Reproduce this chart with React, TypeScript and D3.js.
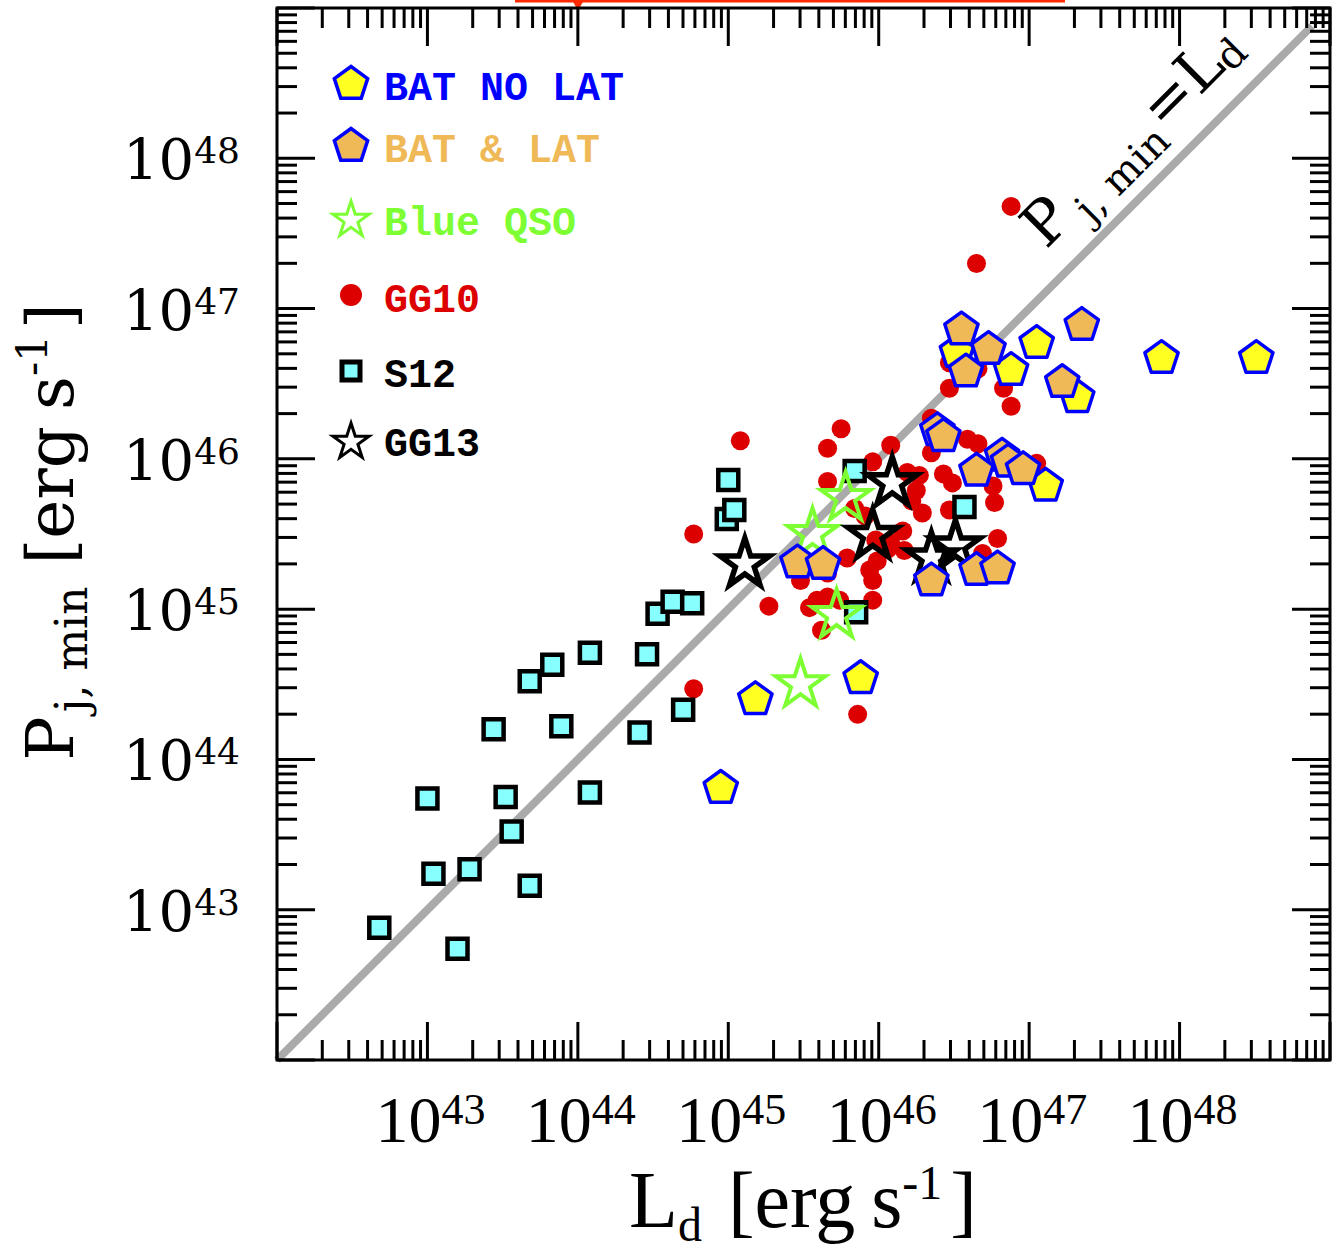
import React from "react";
import * as d3 from "d3";

// all values are log10 of erg/s
const s12Ld = [42.68, 43.2, 43.04, 43.28, 43.0, 43.56, 43.52, 43.68, 43.44, 43.68, 43.83, 43.89, 44.08, 44.08, 44.41, 44.46, 44.53, 44.63, 44.76, 44.7, 44.99, 45.04, 45.0, 45.84, 46.57, 45.85];
const s12Pj = [42.88, 42.74, 43.24, 43.27, 43.74, 43.52, 43.75, 43.16, 44.2, 44.52, 44.63, 44.22, 44.71, 43.78, 44.18, 44.7, 44.97, 45.05, 45.04, 44.33, 45.6, 45.66, 45.86, 45.92, 45.68, 44.98];

const gg10Ld = [46.88, 46.65, 46.47, 46.66, 46.47, 46.83, 46.88, 46.35, 46.08, 45.08, 45.75, 45.66, 44.77, 45.27, 44.77, 45.86, 45.96, 45.66, 47.05, 46.76, 46.77, 46.79, 46.59, 46.66, 46.35, 46.19, 46.27, 46.43, 46.49, 46.25, 46.29, 46.47, 46.22, 46.16, 46.08, 46.17, 45.99, 45.94, 45.96, 45.79, 45.66, 45.48, 45.84, 45.91, 45.59, 45.74, 45.96, 45.54, 45.62, 45.66, 46.06, 46.69, 45.98];
const gg10Pj = [47.68, 47.3, 46.64, 46.6, 46.47, 46.47, 46.35, 46.27, 46.09, 46.12, 46.2, 46.07, 45.5, 45.02, 44.47, 44.3, 45.98, 45.85, 45.97, 45.82, 45.71, 45.47, 46.13, 46.1, 46.04, 45.91, 45.89, 45.9, 45.84, 45.79, 45.64, 45.66, 45.72, 45.52, 45.44, 45.39, 45.32, 45.26, 45.19, 45.34, 45.24, 45.19, 45.67, 45.62, 45.06, 45.06, 45.06, 45.01, 44.86, 45.08, 45.4, 45.37, 45.46];

const gg13Ld = [46.09, 45.96, 45.11, 46.35, 46.51];
const gg13Pj = [45.84, 45.49, 45.3, 45.34, 45.42];

const qsoLd = [45.78, 45.56, 45.72, 45.48];
const qsoPj = [45.74, 45.5, 44.96, 44.5];

const batNoLatLd = [47.88, 48.51, 47.05, 46.88, 47.32, 46.52, 47.11, 45.88, 45.18, 44.95];
const batNoLatPj = [46.67, 46.67, 46.77, 46.59, 46.41, 46.71, 45.82, 44.54, 44.4, 43.81];

const batLatLd = [47.35, 46.55, 46.73, 46.58, 47.22, 46.39, 46.43, 46.82, 46.86, 46.65, 46.96, 45.46, 45.63, 46.35, 46.65, 46.79];
const batLatPj = [46.89, 46.86, 46.73, 46.58, 46.51, 46.19, 46.15, 46.02, 45.98, 45.92, 45.93, 45.31, 45.3, 45.19, 45.26, 45.27];

const xTickExp = [43, 44, 45, 46, 47, 48];
const yTickExp = [43, 44, 45, 46, 47, 48];

const legendItems = ["BAT NO LAT", "BAT & LAT", "Blue QSO", "GG10", "S12", "GG13"];

const BLUE = "#0000ff";
const YELLOW = "#ffff22";
const ORANGE = "#efb957";
const GREEN = "#7dff33";
const RED = "#dd0000";
const CYAN = "#88ffff";

const x = d3.scaleLog().domain([1e42, 1e49]).range([277, 1330]);
const y = d3.scaleLog().domain([1e42, 1e49]).range([1060, 8]);

const pentagon = (r: number) =>
  d3
    .lineRadial<number>()
    .angle((d) => d)
    .radius(r)
    .curve(d3.curveLinearClosed)(d3.range(5).map((i) => (i * 2 * Math.PI) / 5)) as string;

const starPath = (R: number) => d3.symbol(d3.symbolStar, (R * R) / 0.8908130915292852)() as string;
const squarePath = d3.symbol(d3.symbolSquare, 400)() as string;
const pentPath = pentagon(17.5);

const isMajor = (t: number) => Math.abs(Math.log10(t) - Math.round(Math.log10(t))) < 1e-6;

const App = () => {
  const ticks = x.ticks();
  const px = (v: number) => x(10 ** v);
  const py = (v: number) => y(10 ** v);
  const serifY = "'DejaVu Serif', serif";
  const serifX = "'Liberation Serif', serif";

  const legendRows = [100, 162, 235, 312, 387, 456];
  const legendColors = [BLUE, ORANGE, GREEN, RED, "#000", "#000"];

  return (
    <svg width={1336} height={1254} style={{ position: "absolute", left: 0, top: 0, background: "#fff" }}>
      {/* cropped red mark at the top edge */}
      <rect x={515} y={0} width={550} height={2.5} fill="#ff2a00" />
      <path d="M572,0 L584,0 L580,7 Q578,10 576,7 Z" fill="#ff2a00" />

      {/* P = L line */}
      <line x1={x(1e42)} y1={y(1e42)} x2={x(10 ** 48.88)} y2={y(10 ** 48.88)} stroke="#aaaaaa" strokeWidth={8} />
      <text transform="translate(1046,250) rotate(-45)" fontFamily={serifY} fill="#000">
        <tspan fontSize={60}>P</tspan>
        <tspan fontSize={40} dy={14} dx={10}>j, min</tspan>
        <tspan fontSize={60} dy={-14} dx={2}>=L</tspan>
        <tspan fontSize={40} dy={6}>d</tspan>
      </text>

      {/* GG10 */}
      {gg10Ld.map((d, i) => (
        <circle key={"r" + i} cx={px(d)} cy={py(gg10Pj[i])} r={9.5} fill={RED} />
      ))}
      {/* S12 */}
      {s12Ld.map((d, i) => (
        <path key={"s" + i} d={squarePath} transform={`translate(${px(d)},${py(s12Pj[i])})`} fill={CYAN} stroke="#000" strokeWidth={4.5} />
      ))}
      {/* Blue QSO */}
      {qsoLd.map((d, i) => (
        <path key={"q" + i} d={starPath(26)} transform={`translate(${px(d)},${py(qsoPj[i])})`} fill="none" stroke={GREEN} strokeWidth={4} />
      ))}
      {/* GG13 */}
      {gg13Ld.map((d, i) => (
        <path key={"g" + i} d={starPath(26)} transform={`translate(${px(d)},${py(gg13Pj[i])})`} fill="none" stroke="#000" strokeWidth={5.5} />
      ))}
      {/* BAT no LAT */}
      {batNoLatLd.map((d, i) => (
        <path key={"y" + i} d={pentPath} transform={`translate(${px(d)},${py(batNoLatPj[i])})`} fill={YELLOW} stroke={BLUE} strokeWidth={3.5} strokeLinejoin="round" />
      ))}
      {/* BAT & LAT */}
      {batLatLd.map((d, i) => (
        <path key={"o" + i} d={pentPath} transform={`translate(${px(d)},${py(batLatPj[i])})`} fill={ORANGE} stroke={BLUE} strokeWidth={3.5} strokeLinejoin="round" />
      ))}

      {/* legend */}
      <path d={pentPath} transform="translate(351,84)" fill={YELLOW} stroke={BLUE} strokeWidth={3.5} />
      <path d={pentPath} transform="translate(351,146)" fill={ORANGE} stroke={BLUE} strokeWidth={3.5} />
      <path d={starPath(19)} transform="translate(351,220)" fill="none" stroke={GREEN} strokeWidth={3} />
      <circle cx={351} cy={295} r={11} fill={RED} />
      <rect x={342} y={362} width={18} height={18} fill={CYAN} stroke="#000" strokeWidth={5} />
      <path d={starPath(19)} transform="translate(351,442)" fill="none" stroke="#000" strokeWidth={3} />
      {legendItems.map((t, i) => (
        <text key={t} x={384} y={legendRows[i]} fontFamily="'Liberation Mono', monospace" fontWeight="bold" fontSize={40} fill={legendColors[i]} style={{ whiteSpace: "pre" }}>
          {t}
        </text>
      ))}

      {/* frame */}
      <rect x={277} y={8} width={1053} height={1052} fill="none" stroke="#000" strokeWidth={3} />
      {ticks.map((t, i) => {
        const L = isMajor(t) ? 38 : 20;
        const xv = x(t);
        const yv = y(t);
        return (
          <g key={"t" + i} stroke="#000" strokeWidth={3}>
            <line x1={xv} x2={xv} y1={1060} y2={1060 - L} />
            <line x1={xv} x2={xv} y1={8} y2={8 + L} />
            <line x1={277} x2={277 + L} y1={yv} y2={yv} />
            <line x1={1330} x2={1330 - L} y1={yv} y2={yv} />
          </g>
        );
      })}

      {/* tick labels */}
      {xTickExp.map((e) => (
        <text key={"xl" + e} x={x(10 ** e) + 3} y={1142} textAnchor="middle" fontFamily={serifX} fontSize={66}>
          10<tspan fontSize={44} dy={-18}>{e}</tspan>
        </text>
      ))}
      {yTickExp.map((e) => (
        <text key={"yl" + e} x={240} y={y(10 ** e) + 21} textAnchor="end" fontFamily={serifY} fontSize={56}>
          10<tspan fontSize={36} dy={-16}>{e}</tspan>
        </text>
      ))}

      {/* axis titles */}
      <text x={803} y={1227} textAnchor="middle" fontFamily={serifX} fontSize={80}>
        L<tspan fontSize={48} dy={14}>d</tspan>
        <tspan dy={-14} dx={26}>[erg</tspan>
        <tspan dx={16}>s</tspan>
        <tspan fontSize={48} dy={-28}>-1</tspan>
        <tspan dy={28} dx={8}>]</tspan>
      </text>
      <text transform="translate(73,532) rotate(-90)" textAnchor="middle" fontFamily={serifY} fontSize={66}>
        P<tspan fontSize={44} dy={14} dx={4}>j, min</tspan>
        <tspan dy={-14} dx={22}>[erg</tspan>
        <tspan dx={16}>s</tspan>
        <tspan fontSize={42} dy={-26}>-1</tspan>
        <tspan dy={26} dx={6}>]</tspan>
      </text>
    </svg>
  );
};

export default App;
